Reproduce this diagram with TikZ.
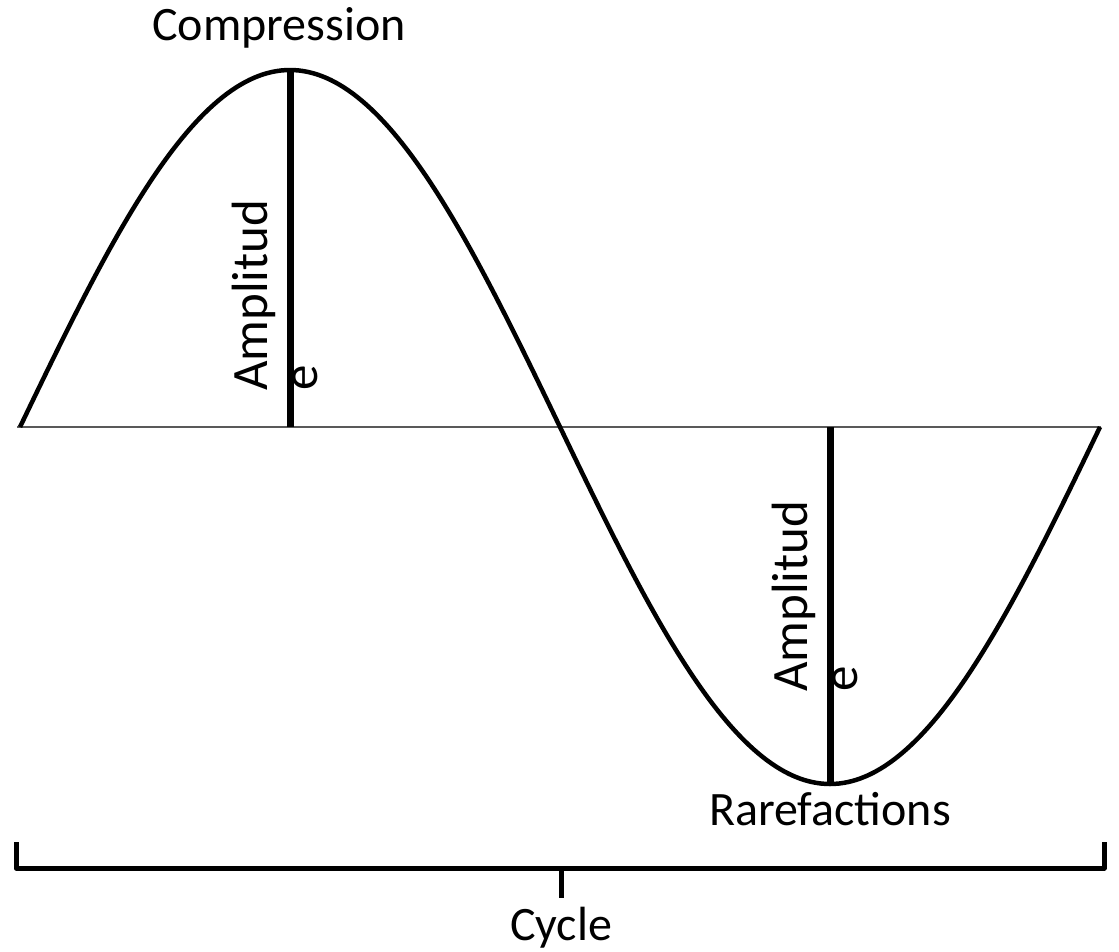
\documentclass[tikz,border=0pt]{standalone}
\usepackage{fontspec}
\setmainfont{Carlito}
\usepackage{tikz}

\begin{document}
\begin{tikzpicture}[x=1pt, y=-1pt, line join=round,
	every node/.style={font=\fontsize{48}{50}\selectfont, inner sep=0pt},
	wave/.style={line width=4.5pt},
	axisline/.style={gray!70!black, line width=2.2pt},
	ampline/.style={line width=7pt},
	amptext/.style={rotate=90, align=left, anchor=base west, font=\fontsize{51}{50}\selectfont},
	brace/.style={line width=5pt}]
	\useasboundingbox (0,0) rectangle (1119,951);
	\coordinate (start) at (20,427);
	\coordinate (end) at (1101,427);
	\coordinate (peak) at (290,70);
	\coordinate (peakbase) at (290,427);
	\coordinate (trough) at (830,782);
	\coordinate (troughbase) at (830,427);
	\draw[axisline] (17,427) -- (end);
	\draw[wave] plot[domain=0:1080, samples=241] ({20+\x},{427-357*sin(\x/3)});
	\draw[ampline] (peak) -- (peakbase);
	\draw[ampline] (troughbase) -- (trough);
	\node[amptext] (amptop) at (317,391) {Amplitud\\e};
	\node[amptext] (ampbot) at (857,692) {Amplitud\\e};
	\node[anchor=base] (comp) at (279,40) {Compression};
	\node[anchor=base] (rare) at (830,825) {Rarefactions};
	% cycle bracket
	\coordinate (bl) at (16,842);
	\coordinate (br) at (1104,842);
	\coordinate (mid) at (561,868);
	\coordinate (midtick) at (561,898);
	\draw[brace] (bl) |- (mid) -| (br);
	\draw[brace] (mid) -- (midtick);
	\node[anchor=base] (cycle) at (561,940) {Cycle};
\end{tikzpicture}
\end{document}
